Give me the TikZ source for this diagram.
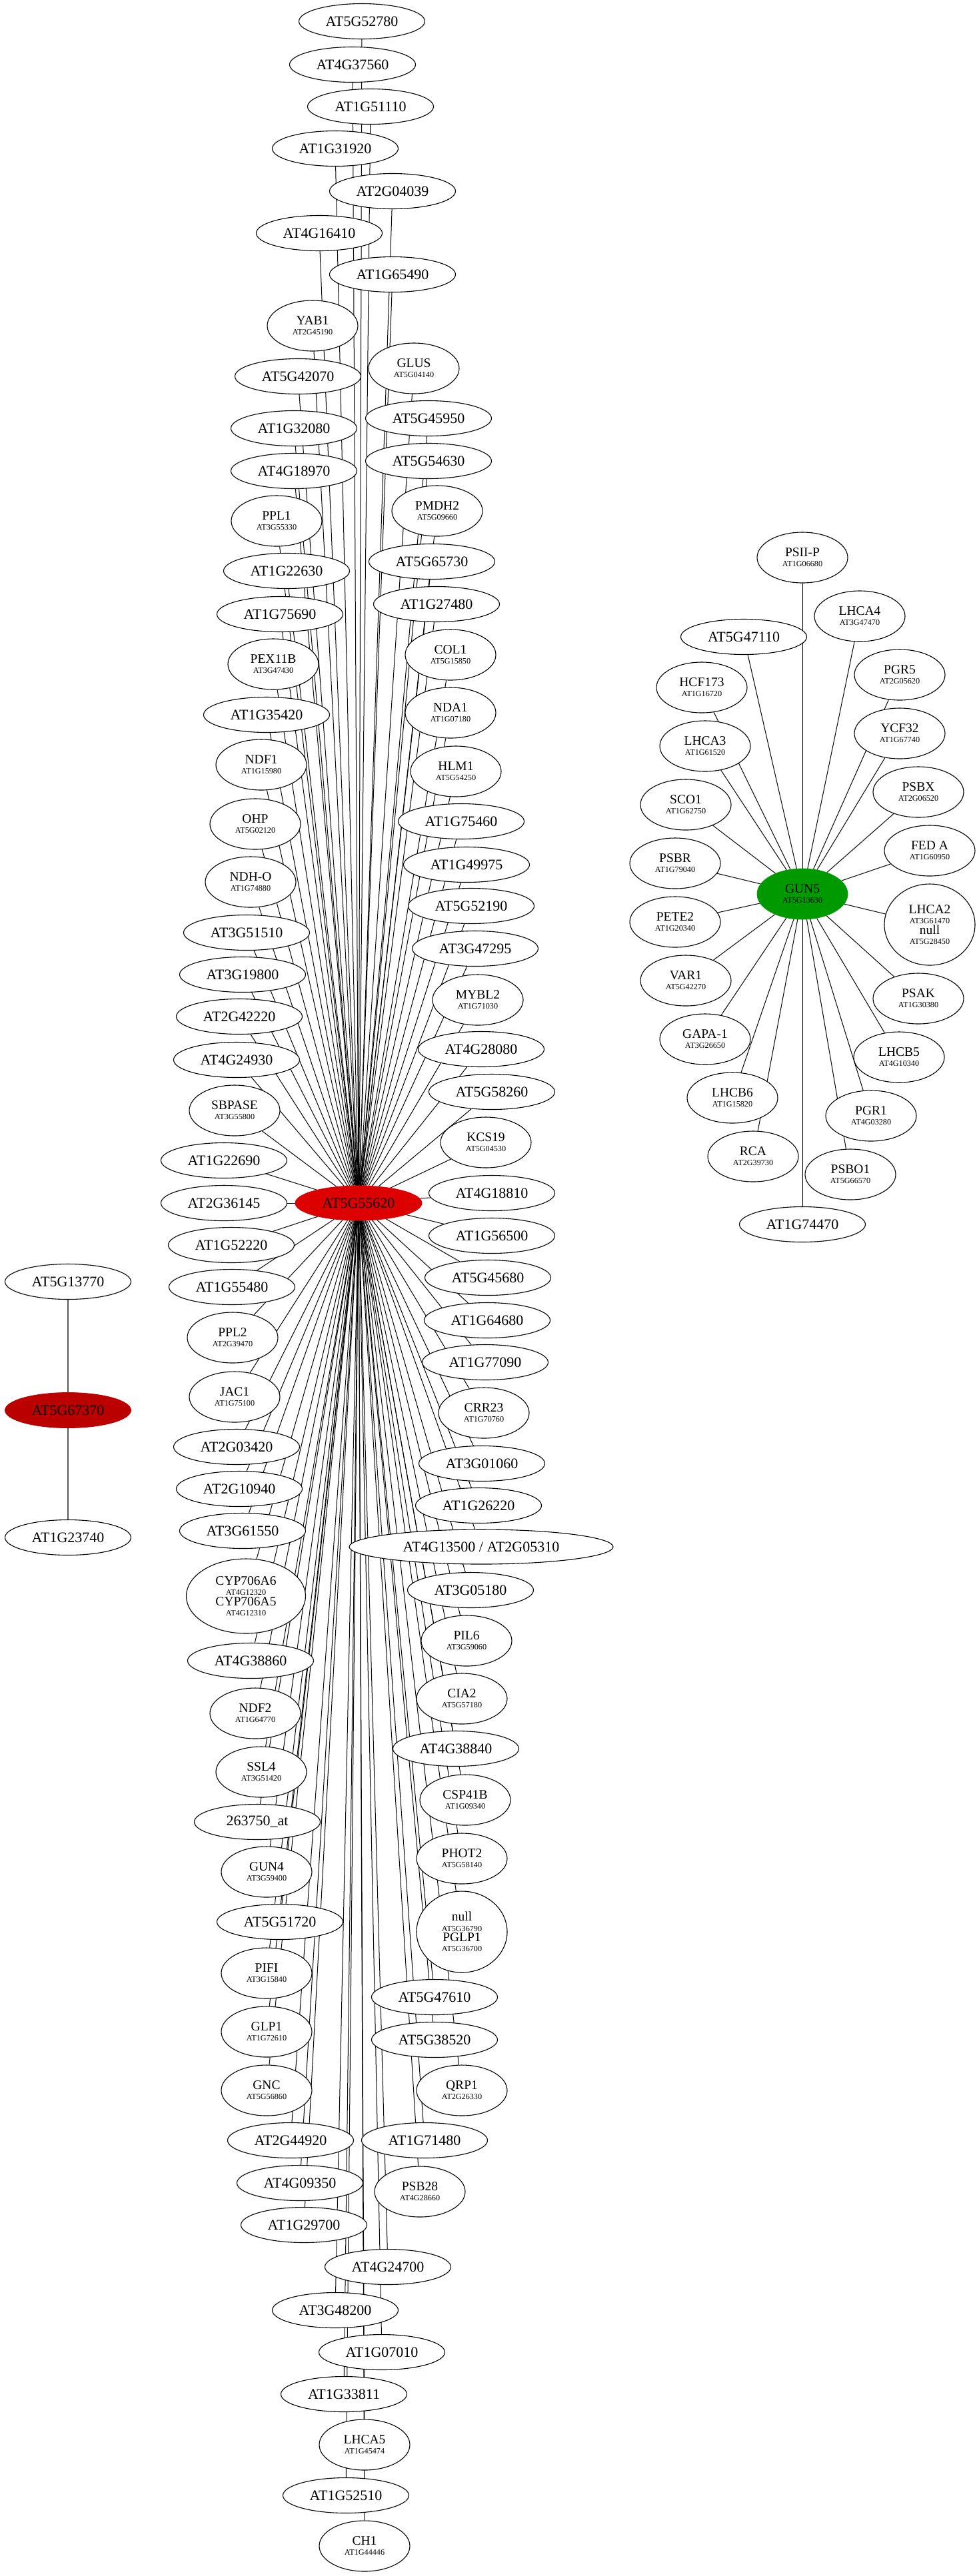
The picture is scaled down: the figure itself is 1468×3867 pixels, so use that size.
\documentclass[tikz,border=0pt]{standalone}
\usepackage{fontspec}
\setmainfont{Liberation Serif}
\usetikzlibrary{shapes.geometric}
\pgfdeclarelayer{bg}
\pgfsetlayers{bg,main}
\definecolor{hubred}{RGB}{221,0,0}
\definecolor{darkhub}{RGB}{187,0,0}
\definecolor{hubgreen}{RGB}{0,153,0}
\newcommand\subf{\fontsize{6.1}{7.5}\selectfont}
\newcommand\tl[2]{#1\\{\subf #2}}
\tikzset{
  gn/.style={ellipse, draw, fill=white, line width=0.55pt, inner sep=0pt},
  one/.style={gn, minimum width=94.5pt, minimum height=26.5pt, font=\fontsize{11}{13}\selectfont},
  two/.style={gn, minimum width=68pt, minimum height=38pt, align=center, font=\fontsize{9.75}{7.5}\selectfont},
  four/.style={gn, minimum width=89.5pt, minimum height=56pt, align=center, font=\fontsize{9.75}{7.6}\selectfont},
  fourb/.style={gn, minimum width=68pt, minimum height=61pt, align=center, font=\fontsize{9.75}{7.6}\selectfont},
  wide/.style={gn, minimum width=198pt, minimum height=26pt, font=\fontsize{11}{13}\selectfont},
  edge/.style={line width=0.5pt, black},
  gedge/.style={line width=0.8pt, black!65},
}
\begin{document}
\begin{tikzpicture}[x=0.5pt,y=-0.5pt]
\useasboundingbox (0,0) rectangle (1468,3867);
% central hub
\node[ellipse, fill=hubred, draw=hubred, inner sep=0pt, minimum width=95pt, minimum height=26pt, font=\fontsize{11}{13}\selectfont] (hub) at (538,1806) {AT5G55620};
\node[one] (c1) at (543,32) {AT5G52780};
\node[one] (c2) at (529,97) {AT4G37560};
\node[one] (c3) at (556,160) {AT1G51110};
\node[one] (c4) at (503,223) {AT1G31920};
\node[one] (c5) at (589,287) {AT2G04039};
\node[one] (c6) at (479,350) {AT4G16410};
\node[one] (c7) at (589,412) {AT1G65490};
\node[two] (c8) at (469,489) {\tl{YAB1}{AT2G45190}};
\node[two] (c9) at (621,553) {\tl{GLUS}{AT5G04140}};
\node[one] (c10) at (447,565) {AT5G42070};
\node[one] (c11) at (643,628) {AT5G45950};
\node[one] (c12) at (441,643) {AT1G32080};
\node[one] (c13) at (643,692) {AT5G54630};
\node[one] (c14) at (441,707) {AT4G18970};
\node[two] (c15) at (656,767) {\tl{PMDH2}{AT5G09660}};
\node[two] (c16) at (415,782) {\tl{PPL1}{AT3G55330}};
\node[one] (c17) at (648,843) {AT5G65730};
\node[one] (c18) at (430,857) {AT1G22630};
\node[one] (c19) at (655,907) {AT1G27480};
\node[one] (c20) at (420,922) {AT1G75690};
\node[two] (c21) at (676,983) {\tl{COL1}{AT5G15850}};
\node[two] (c22) at (410,997) {\tl{PEX11B}{AT3G47430}};
\node[two] (c23) at (676,1070) {\tl{NDA1}{AT1G07180}};
\node[one] (c24) at (400,1073) {AT1G35420};
\node[two] (c25) at (392,1148) {\tl{NDF1}{AT1G15980}};
\node[two] (c26) at (684,1158) {\tl{HLM1}{AT5G54250}};
\node[two] (c27) at (383,1237) {\tl{OHP}{AT5G02120}};
\node[one] (c28) at (692,1233) {AT1G75460};
\node[two] (c29) at (376,1324) {\tl{NDH-O}{AT1G74880}};
\node[one] (c30) at (700,1298) {AT1G49975};
\node[one] (c31) at (707,1360) {AT5G52190};
\node[one] (c32) at (370,1400) {AT3G51510};
\node[one] (c33) at (713,1424) {AT3G47295};
\node[one] (c34) at (364,1463) {AT3G19800};
\node[two] (c35) at (717,1501) {\tl{MYBL2}{AT1G71030}};
\node[one] (c36) at (359,1526) {AT2G42220};
\node[one] (c37) at (722,1575) {AT4G28080};
\node[one] (c38) at (355,1591) {AT4G24930};
\node[two] (c39) at (352,1667) {\tl{SBPASE}{AT3G55800}};
\node[one] (c40) at (738,1639) {AT5G58260};
\node[two] (c41) at (729,1715) {\tl{KCS19}{AT5G04530}};
\node[one] (c42) at (336,1742) {AT1G22690};
\node[one] (c43) at (336,1806) {AT2G36145};
\node[one] (c44) at (738,1791) {AT4G18810};
\node[one] (c45) at (738,1855) {AT1G56500};
\node[one] (c46) at (347,1869) {AT1G52220};
\node[one] (c47) at (732,1918) {AT5G45680};
\node[one] (c48) at (348,1932) {AT1G55480};
\node[two] (c49) at (349,2008) {\tl{PPL2}{AT2G39470}};
\node[one] (c50) at (731,1982) {AT1G64680};
\node[one] (c51) at (728,2045) {AT1G77090};
\node[two] (c52) at (352,2097) {\tl{JAC1}{AT1G75100}};
\node[two] (c53) at (726,2121) {\tl{CRR23}{AT1G70760}};
\node[one] (c54) at (355,2172) {AT2G03420};
\node[one] (c55) at (723,2197) {AT3G01060};
\node[one] (c56) at (359,2235) {AT2G10940};
\node[one] (c57) at (718,2260) {AT1G26220};
\node[one] (c58) at (364,2298) {AT3G61550};
\node[wide] (c59) at (722,2322) {AT4G13500 / AT2G05310};
\node[four] (c60) at (369,2396) {CYP706A6\\{\subf AT4G12320}\\CYP706A5\\{\subf AT4G12310}};
\node[one] (c61) at (706,2387) {AT3G05180};
\node[two] (c62) at (700,2463) {\tl{PIL6}{AT3G59060}};
\node[one] (c63) at (376,2493) {AT4G38860};
\node[two] (c64) at (693,2550) {\tl{CIA2}{AT5G57180}};
\node[two] (c65) at (383,2572) {\tl{NDF2}{AT1G64770}};
\node[one] (c66) at (684,2625) {AT4G38840};
\node[two] (c67) at (392,2660) {\tl{SSL4}{AT3G51420}};
\node[two] (c68) at (698,2702) {\tl{CSP41B}{AT1G09340}};
\node[one] (c69) at (386,2735) {263750\_at};
\node[two] (c70) at (693,2790) {\tl{PHOT2}{AT5G58140}};
\node[two] (c71) at (400,2810) {\tl{GUN4}{AT3G59400}};
\node[one] (c72) at (420,2885) {AT5G51720};
\node[fourb] (c73) at (693,2900) {null\\{\subf AT5G36790}\\PGLP1\\{\subf AT5G36700}};
\node[two] (c74) at (400,2962) {\tl{PIFI}{AT3G15840}};
\node[one] (c75) at (652,2998) {AT5G47610};
\node[two] (c76) at (400,3050) {\tl{GLP1}{AT1G72610}};
\node[one] (c77) at (652,3062) {AT5G38520};
\node[two] (c78) at (400,3138) {\tl{GNC}{AT5G56860}};
\node[two] (c79) at (693,3138) {\tl{QRP1}{AT2G26330}};
\node[one] (c80) at (436,3213) {AT2G44920};
\node[one] (c81) at (637,3213) {AT1G71480};
\node[one] (c82) at (450,3277) {AT4G09350};
\node[two] (c83) at (630,3290) {\tl{PSB28}{AT4G28660}};
\node[one] (c84) at (456,3340) {AT1G29700};
\node[one] (c85) at (582,3403) {AT4G24700};
\node[one] (c86) at (503,3468) {AT3G48200};
\node[one] (c87) at (573,3531) {AT1G07010};
\node[one] (c88) at (516,3594) {AT1G33811};
\node[two] (c89) at (547,3670) {\tl{LHCA5}{AT1G45474}};
\node[one] (c90) at (519,3746) {AT1G52510};
\node[two] (c91) at (547,3822) {\tl{CH1}{AT1G44446}};
% right cluster
\node[ellipse, fill=hubgreen, draw=hubgreen, inner sep=0pt, minimum width=68pt, minimum height=38pt, align=center, font=\fontsize{9.75}{7.5}\selectfont] (gun) at (1204,1342) {\tl{GUN5}{AT5G13630}};
\node[two] (r1) at (1204,837) {\tl{PSII-P}{AT1G06680}};
\node[two] (r2) at (1290,925) {\tl{LHCA4}{AT3G47470}};
\node[one] (r3) at (1116,956) {AT5G47110};
\node[two] (r4) at (1350,1013) {\tl{PGR5}{AT2G05620}};
\node[two] (r5) at (1053,1032) {\tl{HCF173}{AT1G16720}};
\node[two] (r6) at (1350,1101) {\tl{YCF32}{AT1G67740}};
\node[two] (r7) at (1058,1120) {\tl{LHCA3}{AT1G61520}};
\node[two] (r8) at (1378,1189) {\tl{PSBX}{AT2G06520}};
\node[two] (r9) at (1029,1208) {\tl{SCO1}{AT1G62750}};
\node[two] (r10) at (1395,1277) {\tl{FED A}{AT1G60950}};
\node[two] (r11) at (1013,1296) {\tl{PSBR}{AT1G79040}};
\node[two] (r12) at (1013,1384) {\tl{PETE2}{AT1G20340}};
\node[fourb] (r13) at (1395,1388) {LHCA2\\{\subf AT3G61470}\\null\\{\subf AT5G28450}};
\node[two] (r14) at (1029,1472) {\tl{VAR1}{AT5G42270}};
\node[two] (r15) at (1378,1499) {\tl{PSAK}{AT1G30380}};
\node[two] (r16) at (1058,1560) {\tl{GAPA-1}{AT3G26650}};
\node[two] (r17) at (1349,1587) {\tl{LHCB5}{AT4G10340}};
\node[two] (r18) at (1099,1648) {\tl{LHCB6}{AT1G15820}};
\node[two] (r19) at (1307,1675) {\tl{PGR1}{AT4G03280}};
\node[two] (r20) at (1130,1736) {\tl{RCA}{AT2G39730}};
\node[two] (r21) at (1276,1763) {\tl{PSBO1}{AT5G66570}};
\node[one] (r22) at (1204,1838) {AT1G74470};
% left cluster
\node[one] (l1) at (102,1924) {AT5G13770};
\node[ellipse, fill=darkhub, draw=darkhub, inner sep=0pt, minimum width=94.5pt, minimum height=26.5pt, font=\fontsize{11}{13}\selectfont] (l2) at (102,2117) {AT5G67370};
\node[one] (l3) at (102,2308) {AT1G23740};
\begin{pgfonlayer}{bg}
\fill[white] (0,0) rectangle (1468,3867);
\foreach \i in {1,...,91} \draw[edge] (hub) -- (c\i);
\foreach \i in {1,...,22} \draw[edge] (gun) -- (r\i);
\draw[gedge] (l2) -- (l1);
\draw[gedge] (l2) -- (l3);
\end{pgfonlayer}
\end{tikzpicture}
\end{document}
